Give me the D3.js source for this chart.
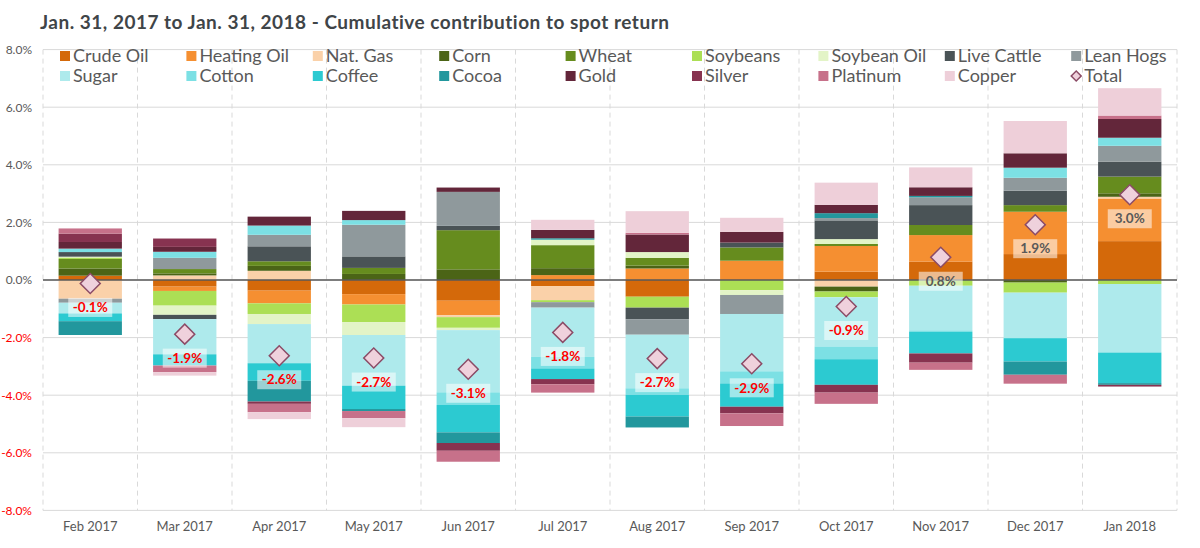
<!DOCTYPE html>
<html lang="en">
<head>
<meta charset="UTF-8">
<title>Cumulative contribution to spot return</title>
<style>
  body { margin: 0; background: #fff; }
  text { font-family: Lato, "Open Sans", sans-serif; }
</style>
</head>
<body>
<script src="https://d3js.org/d3.v7.min.js"></script>
<div id="container"></div>
<script>
// months on the x axis
var months = ["Feb 2017", "Mar 2017", "Apr 2017", "May 2017", "Jun 2017", "Jul 2017",
              "Aug 2017", "Sep 2017", "Oct 2017", "Nov 2017", "Dec 2017", "Jan 2018"];

// contribution of each commodity, in %
var crudeOil   = [ 0.15, -0.23, -0.37, -0.49, -0.72, -0.21, -0.58,  0.00,  0.29,  0.64,  0.90,  1.35];
var heatingOil = [ 0.00, -0.15, -0.44, -0.36, -0.50,  0.17,  0.40,  0.67,  0.89,  0.92,  1.47,  1.48];
var natGas     = [-0.65,  0.16,  0.32,  0.00, -0.07, -0.49,  0.00,  0.00, -0.23,  0.00,  0.00,  0.06];
var corn       = [ 0.25,  0.07,  0.17,  0.21,  0.37,  0.24,  0.10,  0.00, -0.17,  0.00, -0.09,  0.12];
var wheat      = [ 0.33,  0.15,  0.16,  0.21,  1.36,  0.80,  0.27,  0.46,  0.07,  0.35,  0.23,  0.58];
var soybeans   = [ 0.05, -0.51, -0.37, -0.61, -0.37, -0.07, -0.38, -0.35, -0.20, -0.20, -0.35, -0.14];
var soybeanOil = [ 0.03, -0.32, -0.35, -0.45, -0.08,  0.19,  0.20, -0.17,  0.17,  0.00,  0.00,  0.00];
var liveCattle = [ 0.16, -0.15,  0.52,  0.40,  0.15,  0.00, -0.40,  0.17,  0.65,  0.69,  0.50,  0.52];
var leanHogs   = [-0.14,  0.39,  0.40,  1.10,  1.18, -0.19, -0.54, -0.66,  0.08,  0.27,  0.45,  0.55];
var sugar      = [-0.37, -1.22, -1.36, -1.76, -2.16, -1.71, -1.86, -1.99, -1.71, -1.55, -1.58, -2.38];
var cotton     = [ 0.12,  0.21,  0.32,  0.16, -0.44, -0.40, -0.23, -0.42, -0.44, -0.05,  0.35,  0.28];
var coffee     = [-0.27, -0.39, -0.61, -0.81, -0.95, -0.37, -0.75, -0.81, -0.89, -0.75, -0.81, -1.06];
var cocoa      = [-0.48,  0.00, -0.72, -0.07, -0.37,  0.05, -0.38,  0.00,  0.17,  0.05, -0.46, -0.06];
var gold       = [ 0.23,  0.17,  0.31,  0.32,  0.15,  0.29,  0.61,  0.37,  0.29,  0.30,  0.50,  0.65];
var silver     = [ 0.29,  0.29, -0.08,  0.00, -0.27, -0.18,  0.00, -0.23, -0.27, -0.32,  0.00, -0.06];
var platinum   = [ 0.18, -0.23, -0.29, -0.25, -0.38, -0.29,  0.06, -0.44, -0.39, -0.25, -0.31,  0.12];
var copper     = [ 0.00, -0.12, -0.24, -0.31,  0.00,  0.35,  0.75,  0.49,  0.77,  0.69,  1.12,  0.95];

var names = ["Crude Oil", "Heating Oil", "Nat. Gas", "Corn", "Wheat", "Soybeans", "Soybean Oil",
             "Live Cattle", "Lean Hogs", "Sugar", "Cotton", "Coffee", "Cocoa", "Gold", "Silver",
             "Platinum", "Copper"];
var values = [crudeOil, heatingOil, natGas, corn, wheat, soybeans, soybeanOil, liveCattle, leanHogs,
              sugar, cotton, coffee, cocoa, gold, silver, platinum, copper];

var yTicks = [-8, -6, -4, -2, 0, 2, 4, 6, 8];

var colors = ["#d4690a", "#f58f31", "#fad1a9", "#4b6416", "#668c1e", "#acdf55", "#e3f4c7",
              "#4a5356", "#8f999c", "#aeeaec", "#7ce0e4", "#2ccad1", "#22979d", "#63263a",
              "#873350", "#c7718a", "#eecfd9"];

var W = 1200, H = 548;
var margin = {top: 49.6, bottom: 37.6, left: 43, right: 23};

var svg = d3.select("#container").append("svg").attr("width", W).attr("height", H);

var rows = months.map(function(m, i) {
    var r = {month: m};
    names.forEach(function(n, j) { r[n] = values[j][i]; });
    r.total = d3.sum(values, function(v) { return v[i]; });
    return r;
});

var stacked = d3.stack().keys(names).offset(d3.stackOffsetDiverging)(rows);

var x = d3.scaleBand().domain(months).range([margin.left, W - margin.right])
    .paddingInner(0.33).paddingOuter(0.165);
var y = d3.scaleLinear().domain([-8, 8]).range([H - margin.bottom, margin.top]);
var step = x.step();

// title
svg.append("text").attr("x", 40).attr("y", 29)
    .attr("font-size", 19).attr("font-weight", "bold").attr("letter-spacing", 0.5).attr("fill", "#3f4548")
    .text("Jan. 31, 2017 to Jan. 31, 2018 - Cumulative contribution to spot return");

// horizontal gridlines
svg.append("g").selectAll("line").data(yTicks).enter().append("line")
    .attr("x1", margin.left).attr("x2", W - margin.right)
    .attr("y1", function(d) { return y(d); }).attr("y2", function(d) { return y(d); })
    .attr("stroke", "#d9d9d9").attr("stroke-width", 1);

// vertical dashed separators
var seps = months.map(function(m) { return x(m) - step * 0.165; });
seps.push(W - margin.right);
svg.append("g").selectAll("line").data(seps).enter().append("line")
    .attr("x1", function(d) { return d; }).attr("x2", function(d) { return d; })
    .attr("y1", y(8)).attr("y2", y(-8))
    .attr("stroke", "#d9d9d9").attr("stroke-dasharray", "5,4");

// bars
svg.append("g").selectAll("g").data(stacked).enter().append("g")
    .attr("fill", function(d, i) { return colors[i]; })
  .selectAll("rect").data(function(d) { return d; }).enter().append("rect")
    .attr("x", function(d) { return x(d.data.month); })
    .attr("width", x.bandwidth())
    .attr("y", function(d) { return y(Math.max(d[0], d[1])); })
    .attr("height", function(d) { return Math.abs(y(d[0]) - y(d[1])); });

// zero line
svg.append("line").attr("x1", margin.left).attr("x2", W - margin.right)
    .attr("y1", y(0)).attr("y2", y(0)).attr("stroke", "#595959").attr("stroke-width", 1.5);

// y axis labels
var yAxis = svg.append("g").attr("transform", "translate(" + (margin.left - 8) + ",0)")
    .call(d3.axisLeft(y).tickValues(yTicks).tickSize(0).tickFormat(function(d) { return d.toFixed(1) + "%"; }));
yAxis.select(".domain").remove();
yAxis.selectAll("text").attr("font-size", 12).attr("font-family", "Lato, sans-serif")
    .attr("fill", function(d) { return d < 0 ? "#ff0000" : "#595959"; });

// x axis labels
var xAxis = svg.append("g").attr("transform", "translate(0," + y(-8) + ")")
    .call(d3.axisBottom(x).tickSize(0).tickPadding(11));
xAxis.select(".domain").remove();
xAxis.selectAll("text").attr("font-size", 13).attr("font-family", "Lato, sans-serif").attr("fill", "#595959");

// total markers
var diamond = d3.symbol().type(d3.symbolSquare).size(200);
var totals = svg.append("g").selectAll("g").data(rows).enter().append("g")
    .attr("transform", function(d) { return "translate(" + (x(d.month) + x.bandwidth() / 2) + "," + y(d.total) + ")"; });
totals.append("path").attr("d", diamond).attr("transform", "rotate(45)")
    .attr("fill", "#efd1dc").attr("stroke", "#8b4b66").attr("stroke-width", 1.5);
totals.append("rect").attr("x", -22).attr("y", 14.5).attr("width", 44).attr("height", 19)
    .attr("fill", "#ffffff").attr("fill-opacity", 0.55);
totals.append("text").attr("y", 24).attr("dy", "0.35em").attr("text-anchor", "middle")
    .attr("font-size", 13.5).attr("font-weight", "bold")
    .attr("fill", function(d) { return d.total < 0 ? "#ff0000" : "#595959"; })
    .text(function(d) { return d.total.toFixed(1) + "%"; });

// legend
var legendItems = names.concat(["Total"]);
var legend = svg.append("g").selectAll("g").data(legendItems).enter().append("g")
    .attr("transform", function(d, i) { return "translate(" + (60 + (i % 9) * 126.4) + "," + (i < 9 ? 56 : 76) + ")"; });
legend.each(function(d, i) {
    var g = d3.select(this);
    if (d === "Total") {
        g.append("path").attr("d", d3.symbol().type(d3.symbolSquare).size(50))
            .attr("transform", "translate(5,0) rotate(45)")
            .attr("fill", "#efd1dc").attr("stroke", "#8b4b66").attr("stroke-width", 1.5);
    } else {
        g.append("rect").attr("x", 0).attr("y", -5).attr("width", 10).attr("height", 10).attr("fill", colors[i]);
    }
});
legend.append("text").attr("x", 13).attr("dy", "0.35em")
    .attr("font-size", 18).attr("fill", "#595959")
    .text(function(d) { return d; });
</script>
</body>
</html>
